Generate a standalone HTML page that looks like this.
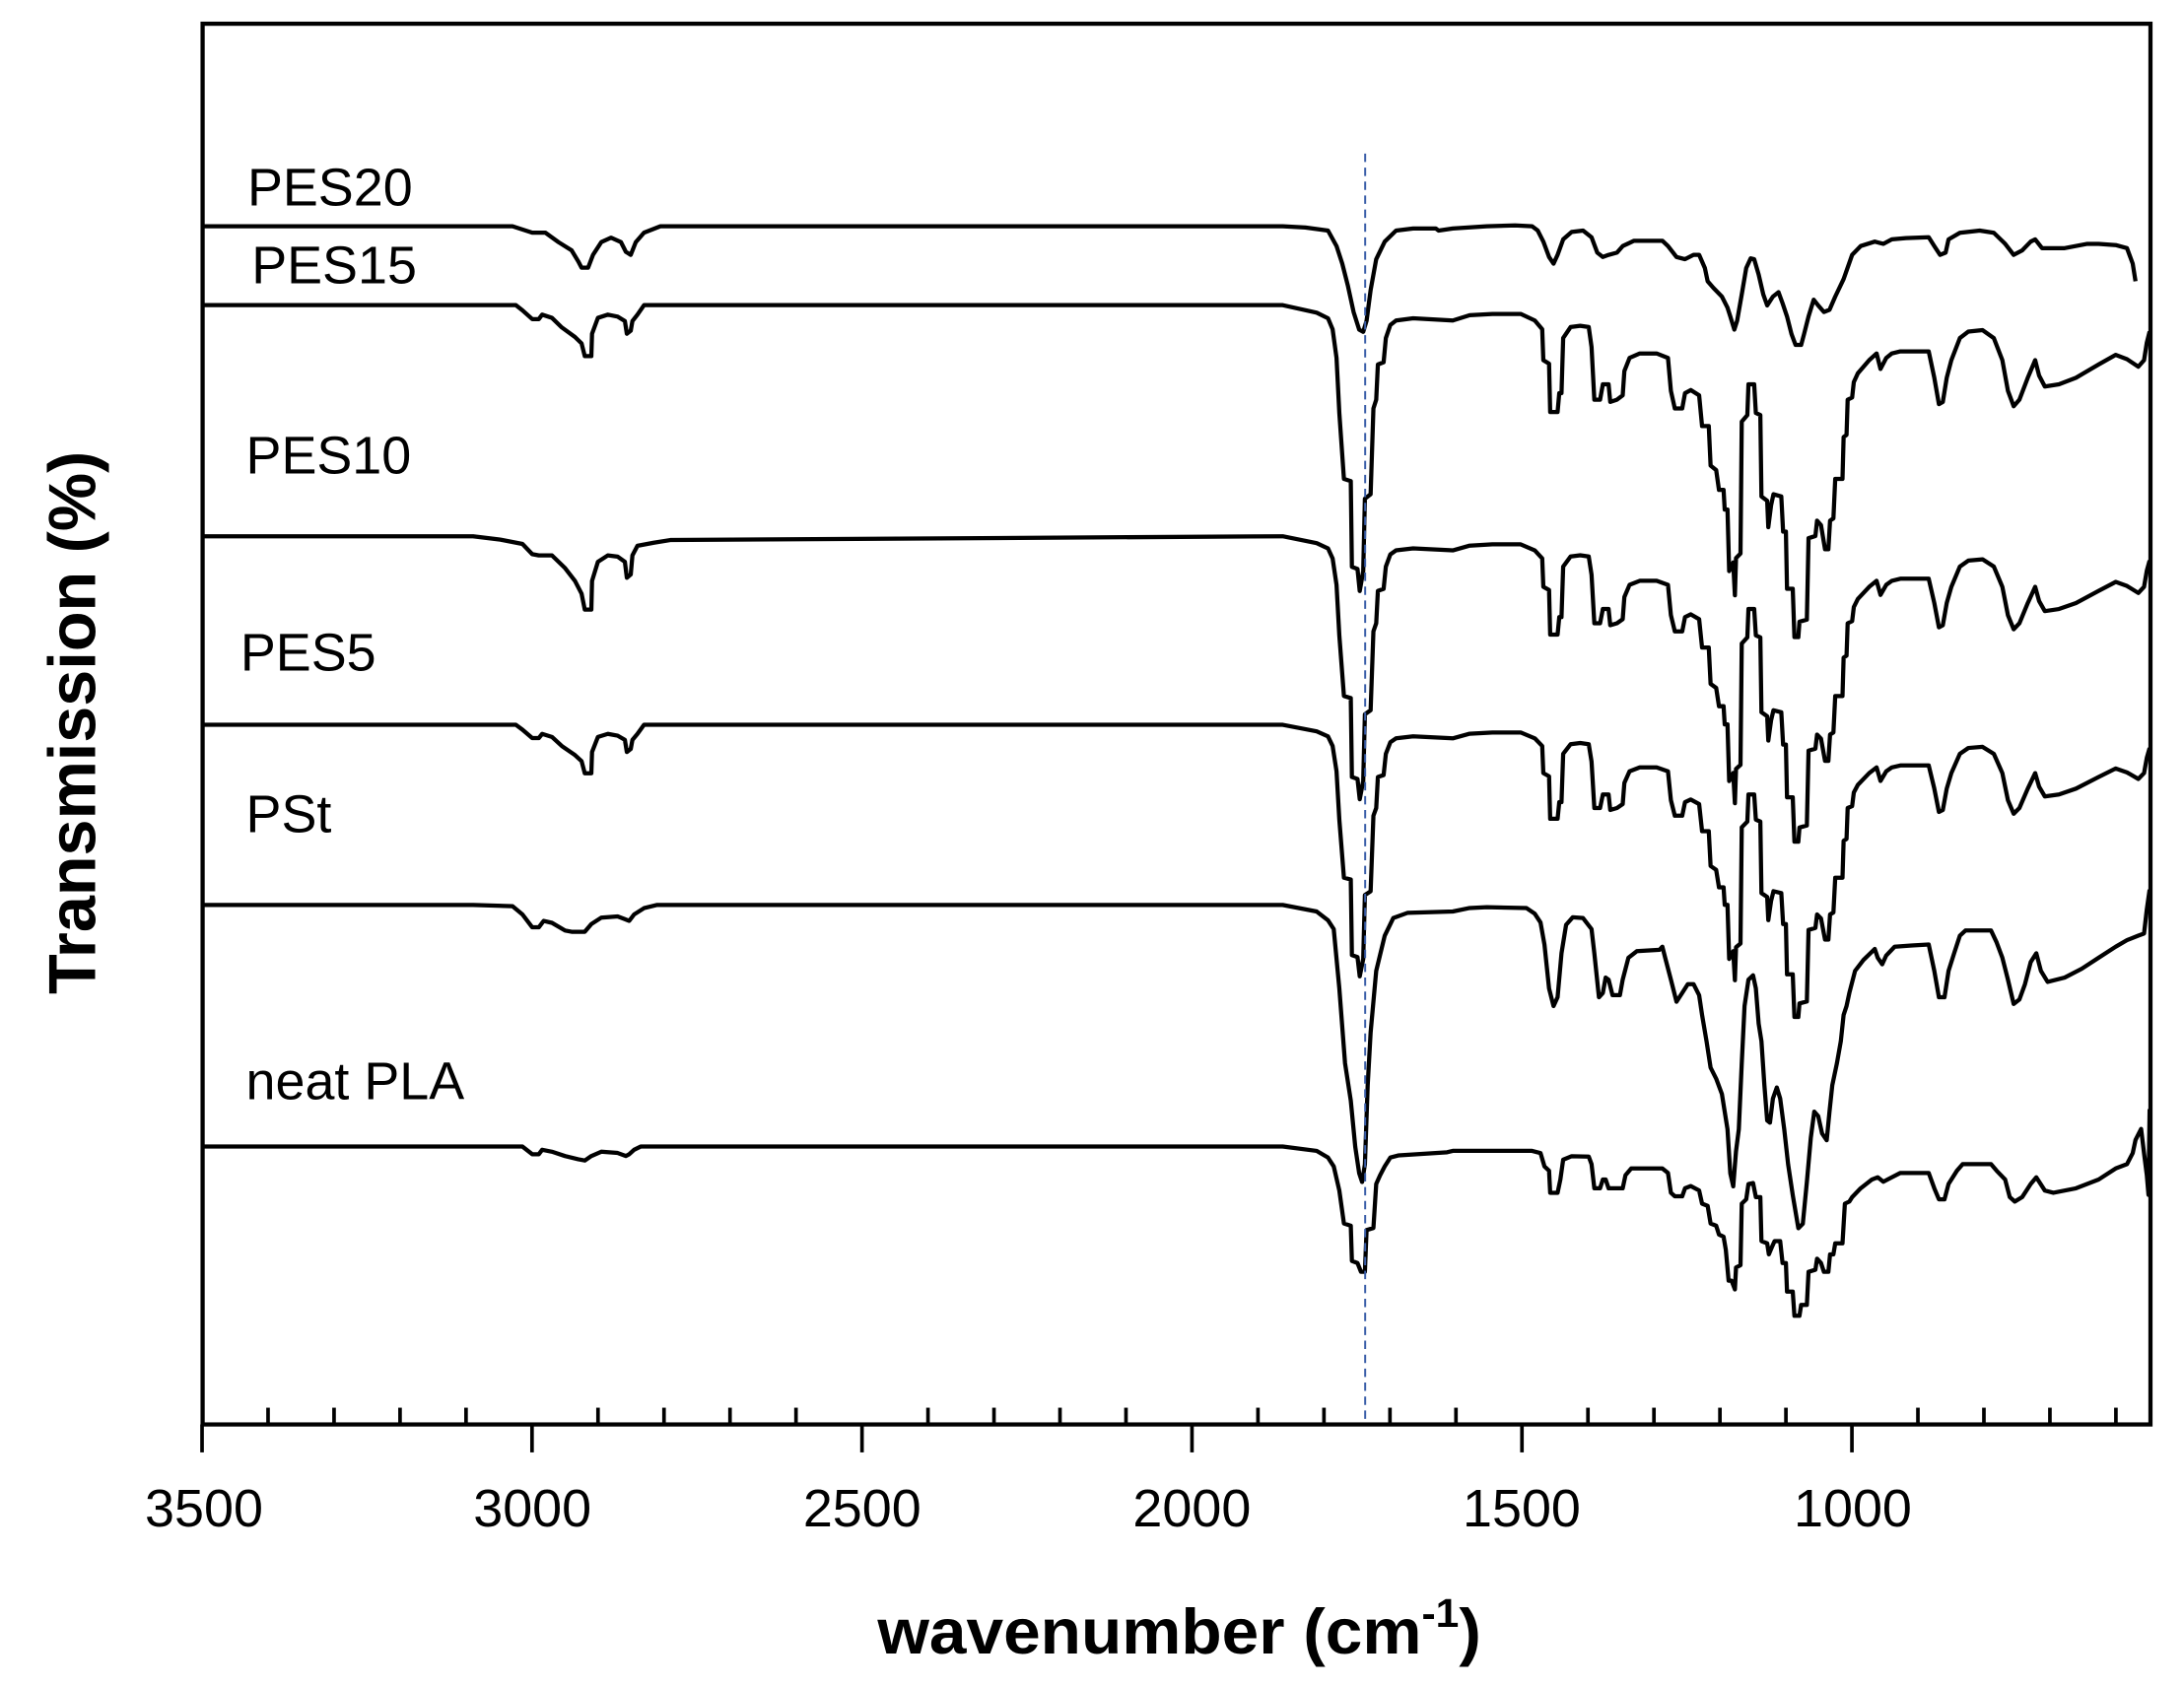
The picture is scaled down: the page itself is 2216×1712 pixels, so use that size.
<!DOCTYPE html>
<html><head><meta charset="utf-8">
<style>html,body{margin:0;padding:0;background:#fff}svg{display:block}</style>
</head><body>
<svg id="s" width="2216" height="1712" viewBox="0 0 1563 1208" preserveAspectRatio="none" xmlns="http://www.w3.org/2000/svg">
<rect x="0" y="0" width="1563" height="1208" fill="#fff"/>
<g id="curves" fill="none" stroke="#000" stroke-width="3" stroke-linejoin="round"></g>
<line x1="977" y1="110" x2="977" y2="1020" stroke="#3a5ea8" stroke-width="1.4" stroke-dasharray="6,4"/>
<rect x="145" y="17" width="1394" height="1003" fill="none" stroke="#000" stroke-width="3"/>
<g id="ticks" stroke="#000" stroke-width="2.6"></g>
<g font-family="Liberation Sans, Arial, sans-serif" font-size="38" fill="#000">
<text x="146" y="1093" text-anchor="middle">3500</text>
<text x="381" y="1093" text-anchor="middle">3000</text>
<text x="617" y="1093" text-anchor="middle">2500</text>
<text x="853" y="1093" text-anchor="middle">2000</text>
<text x="1089" y="1093" text-anchor="middle">1500</text>
<text x="1326" y="1093" text-anchor="middle">1000</text>
<text x="177" y="147">PES20</text>
<text x="180" y="203">PES15</text>
<text x="176" y="339">PES10</text>
<text x="172" y="480">PES5</text>
<text x="176" y="596">PSt</text>
<text x="176" y="787">neat PLA</text>
</g>
<g font-family="Liberation Sans, Arial, sans-serif" font-weight="bold" fill="#000">
<text x="628" y="1184" font-size="46" textLength="432" lengthAdjust="spacingAndGlyphs">wavenumber (cm<tspan font-size="29" dy="-19">-1</tspan><tspan dy="19">)</tspan></text>
<text transform="translate(68,712) rotate(-90)" font-size="48" textLength="389" lengthAdjust="spacingAndGlyphs">Transmission (%)</text>
</g>
</svg>
<script>
function X(w){return 144.6+(3500-w)*0.4723;}
var tk=document.getElementById('ticks'),h='';
for(var w=3500;w>=600;w-=100){var x=X(w);
 if(w%500==0)h+='<line x1="'+x+'" y1="1020" x2="'+x+'" y2="1040"/>';
 else h+='<line x1="'+x+'" y1="1020" x2="'+x+'" y2="1008"/>';}
tk.innerHTML=h;
var L={
p15:[0,0,130,0,150,8,180,22,200,22,210,15,240,20,270,35,310,50,330,60,340,80,360,80,362,45,380,20,410,15,440,18,462,25,468,45,480,40,485,25,500,15,520,0],
p20:[0,0,120,0,180,10,220,10,260,25,300,38,320,55,330,65,350,65,365,45,390,25,420,18,450,25,465,40,480,45,495,25,520,10,570,0],
p10:[0,0,80,5,150,12,180,28,200,30,240,30,280,50,310,70,330,90,340,115,360,115,362,70,380,40,410,30,440,32,462,40,468,65,480,60,485,30,500,15,550,10,600,6],
pst:[0,0,120,2,150,15,180,35,200,35,215,25,240,28,280,40,300,42,340,42,360,30,390,20,440,18,460,22,475,25,490,15,520,5,560,0],
pla:[0,0,150,0,180,12,200,12,210,5,240,8,280,15,320,20,340,22,360,15,390,8,440,10,465,15,475,12,490,5,510,0]
};
var R={
p15:{b:245,d:[0,245,60,262,80,275,88,300,95,365,100,490,108,640,120,645,122,840,132,845,136,895,142,850,145,685,155,675,160,480,165,460,168,380,178,375,182,320,190,290,200,280,230,275,300,280,330,268,370,265,420,265,445,280,458,300,460,370,470,378,472,488,485,488,488,445,492,445,495,320,508,295,525,292,540,295,545,340,550,460,560,460,565,425,575,425,578,465,590,460,600,450,603,395,612,365,630,355,660,355,680,365,685,440,692,480,705,480,710,445,720,438,735,450,740,520,752,520,755,610,765,620,770,665,778,665,780,710,785,710,788,850,795,830,798,905,800,820,808,810,810,510,820,495,822,425,832,425,835,490,843,495,845,680,855,690,857,750,862,700,866,675,880,680,883,760,888,760,890,890,900,890,903,1000,910,1000,912,965,925,960,928,775,940,770,943,735,950,745,957,800,963,800,966,735,972,730,975,640,988,640,990,545,995,540,997,460,1005,455,1008,420,1015,400,1035,370,1048,355,1055,390,1065,365,1075,355,1090,350,1140,350,1150,410,1158,470,1165,465,1172,410,1180,370,1195,320,1210,305,1235,302,1255,320,1270,370,1280,440,1290,475,1300,460,1315,410,1328,370,1335,405,1345,430,1370,425,1400,410,1440,380,1470,358,1490,368,1510,385,1520,370,1525,330,1530,305]},
p20:{b:65,d:[0,65,40,68,80,75,95,110,105,150,115,200,125,260,135,300,142,305,148,280,155,210,165,140,180,100,200,75,230,70,270,70,275,75,300,70,360,65,410,63,440,65,450,75,460,100,470,135,478,150,485,130,495,95,510,78,530,75,545,90,555,125,565,135,575,130,590,125,600,110,620,98,670,98,680,110,695,135,710,140,725,130,735,130,745,160,750,190,760,205,775,225,785,250,790,270,797,300,802,280,810,220,818,160,826,138,832,140,840,175,848,220,855,245,865,225,875,215,882,240,890,270,898,310,905,335,915,335,920,310,928,270,937,232,945,245,955,260,965,255,975,225,990,185,1005,130,1020,110,1045,100,1060,105,1075,95,1100,92,1140,90,1150,110,1160,130,1170,125,1175,95,1195,80,1230,75,1255,80,1275,105,1290,130,1305,120,1320,100,1328,95,1340,115,1380,115,1420,105,1440,105,1470,108,1490,115,1500,150,1505,190]},
pst:{b:490,d:[0,490,60,505,80,525,90,545,100,680,110,850,120,935,128,1040,135,1100,140,1120,145,1080,150,900,155,780,165,640,180,560,195,520,220,508,300,505,330,497,360,495,430,497,445,510,455,530,462,580,470,680,478,720,485,700,492,600,500,535,512,518,530,520,545,545,550,600,558,700,565,690,570,655,575,660,582,695,595,695,600,660,610,610,625,595,665,592,670,585,675,610,685,660,695,710,705,690,715,670,725,670,735,695,740,740,748,800,755,860,765,885,775,920,780,960,785,1000,790,1100,795,1130,800,1050,805,1000,810,850,815,720,822,660,830,650,835,680,840,760,845,800,850,900,855,980,860,985,865,930,872,905,878,930,885,1000,892,1080,900,1150,910,1225,918,1215,925,1120,932,1020,938,960,945,970,952,1010,960,1025,965,960,970,900,978,850,985,800,990,740,995,720,1000,690,1010,640,1025,615,1045,590,1050,610,1058,625,1065,605,1080,585,1110,582,1140,580,1150,640,1158,700,1168,700,1175,640,1185,600,1195,560,1205,548,1250,548,1260,575,1270,610,1280,660,1290,715,1300,705,1310,670,1320,620,1330,600,1338,640,1350,665,1380,655,1410,635,1440,610,1470,585,1490,570,1510,560,1520,555,1525,500,1530,455]},
pla:{b:1035,d:[0,1035,60,1045,80,1060,90,1080,100,1135,108,1210,120,1215,122,1295,132,1300,138,1320,145,1320,148,1225,160,1220,165,1120,172,1100,180,1080,190,1060,205,1055,290,1048,300,1045,440,1045,455,1050,462,1080,470,1090,472,1140,485,1140,490,1110,495,1065,510,1057,540,1058,545,1075,550,1130,560,1130,565,1110,570,1110,575,1130,600,1130,605,1100,615,1085,670,1085,680,1095,685,1140,692,1148,705,1148,710,1130,720,1125,735,1135,740,1165,750,1170,755,1210,765,1215,770,1235,778,1240,782,1270,787,1340,792,1340,798,1360,800,1310,808,1305,810,1165,818,1155,822,1120,830,1118,835,1150,843,1150,845,1250,855,1255,858,1280,863,1265,868,1250,878,1250,882,1300,888,1300,890,1365,900,1365,903,1420,912,1420,915,1395,925,1395,928,1320,940,1315,943,1290,950,1300,955,1320,963,1320,966,1280,972,1280,975,1255,988,1255,992,1165,1000,1160,1005,1150,1020,1130,1040,1110,1050,1105,1060,1115,1075,1105,1090,1095,1140,1095,1150,1130,1158,1155,1168,1155,1175,1120,1190,1090,1200,1075,1250,1075,1260,1090,1275,1110,1283,1150,1292,1160,1305,1150,1320,1120,1330,1105,1345,1135,1360,1140,1400,1130,1440,1110,1470,1085,1490,1075,1500,1050,1505,1020,1515,995,1520,1050,1525,1100,1528,1145,1530,950]}
};
var series=[
 {base:162,l:'p20',ls:1,r:'p20',rs:1},
 {base:218.5,l:'p15',ls:1,r:'p15',rs:1},
 {base:384,l:'p10',ls:1,r:'p15',rs:0.92},
 {base:519,l:'p15',ls:0.95,r:'p15',rs:0.88},
 {base:648,l:'pst',ls:1,r:'pst',rs:1},
 {base:821,l:'pla',ls:1,r:'pla',rs:1}
];
var g=document.getElementById('curves'),out='';
series.forEach(function(s){
 var pts=[[146,s.base]];
 var l=L[s.l];
 for(var i=0;i<l.length;i+=2)pts.push([338.6+l[i]*0.2351,s.base+l[i+1]*0.4565*s.ls]);
 var r=R[s.r];
 for(var i=0;i<r.d.length;i+=2)pts.push([918+r.d[i]*0.4055,s.base+(r.d[i+1]-r.b)*0.3149*s.rs]);
 var d='M'+pts.map(function(p){return p[0].toFixed(1)+','+p[1].toFixed(1);}).join(' L');
 out+='<path d="'+d+'"/>';
});
g.innerHTML=out;
</script>
</body></html>
